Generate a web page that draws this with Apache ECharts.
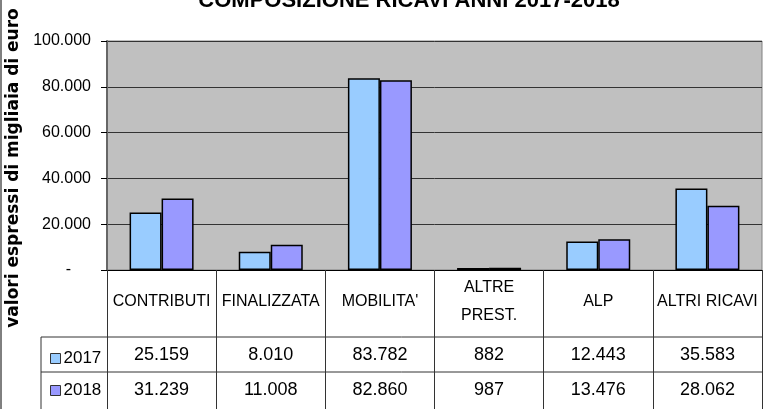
<!DOCTYPE html>
<html>
<head>
<meta charset="utf-8">
<script src="https://cdn.jsdelivr.net/npm/echarts@6/dist/echarts.min.js"></script>
<style>
  html, body { margin: 0; padding: 0; background: #fff; }
  #chart { width: 763px; height: 409px; }
</style>
</head>
<body>
<div id="chart"></div>
<script>
// dati
const categories = ['CONTRIBUTI', 'FINALIZZATA', "MOBILITA'", 'ALTRE\nPREST.', 'ALP', 'ALTRI RICAVI'];
const ricavi2017 = [25159, 8010, 83782, 882, 12443, 35583];
const ricavi2018 = [31239, 11008, 82860, 987, 13476, 28062];
const yTicks = [0, 20000, 40000, 60000, 80000, 100000];

const FONT = 'Liberation Sans, Arial, sans-serif';

// formato italiano 25.159
const fmt = (v) => String(v).replace(/\B(?=(\d{3})+(?!\d))/g, '.');

const chart = echarts.init(document.getElementById('chart'));

const gridL = 107, gridR = 762, gridB = 270;
const row1 = 337, row2 = 372, tableB = 409;
const legL = 41;

const valueAxis = (data, margin) => ({
  type: 'category',
  data: data.map(fmt),
  position: 'bottom',
  gridIndex: 0,
  axisLine: { show: false },
  axisTick: { show: false },
  axisLabel: {
    interval: 0,
    margin: margin,
    verticalAlign: 'middle',
    color: '#000',
    fontFamily: FONT,
    fontSize: 18,
  },
});

chart.setOption({
  animation: false,
  color: ['#99ccff', '#9999ff'],
  title: {
    text: 'COMPOSIZIONE RICAVI ANNI 2017-2018',
    left: 404,
    textAlign: 'center',
    top: -15,
    textStyle: { fontFamily: FONT, fontSize: 22, fontWeight: 'bold', color: '#000' },
  },
  legend: {
    orient: 'vertical',
    left: 45,
    top: 345,
    itemGap: 15,
    itemWidth: 10,
    itemHeight: 10,
    icon: 'rect',
    data: ['2017', '2018'],
    textStyle: { fontFamily: FONT, fontSize: 17, color: '#000', padding: [0, 0, 0, -2] },
    itemStyle: { borderColor: '#333', borderWidth: 1 },
  },
  grid: {
    left: gridL,
    right: 763 - gridR,
    top: 41,
    bottom: 409 - gridB,
    outerBoundsMode: 'none',
    containLabel: false,
    show: true,
    backgroundColor: '#c0c0c0',
    borderColor: '#808080',
    borderWidth: 1,
  },
  xAxis: [
    {
      type: 'category',
      data: categories,
      axisLine: { lineStyle: { color: '#000', width: 1 } },
      // tacche lunghe = separatori di colonna della tabella
      axisTick: { show: true, length: tableB - gridB, lineStyle: { color: '#333' } },
      axisLabel: {
        interval: 0,
        margin: 32,
        verticalAlign: 'middle',
        lineHeight: 28,
        color: '#000',
        fontFamily: FONT,
        fontSize: 16,
      },
    },
    valueAxis(ricavi2017, row1 - gridB + 18),
    valueAxis(ricavi2018, row2 - gridB + 18),
  ],
  yAxis: {
    type: 'value',
    min: 0,
    max: 100000,
    interval: 20000,
    axisLine: { show: true, lineStyle: { color: '#666', width: 2 } },
    axisTick: { show: true, length: 6, lineStyle: { color: '#000' } },
    axisLabel: {
      margin: 16,
      color: '#000',
      fontFamily: FONT,
      fontSize: 16,
      formatter: (v) => {
        if (!yTicks.includes(v)) return '';
        return v === 0 ? '{z|-}' : fmt(v);
      },
      rich: { z: { fontFamily: FONT, fontSize: 16, color: '#000', padding: [0, 20, 0, 0] } },
    },
    splitLine: { lineStyle: { color: '#333', width: 1 } },
  },
  series: [
    {
      name: '2017',
      type: 'bar',
      data: ricavi2017,
      barWidth: 32,
      barGap: '0%',
      itemStyle: { borderColor: '#000', borderWidth: 1.5 },
    },
    {
      name: '2018',
      type: 'bar',
      data: ricavi2018,
      barWidth: 32,
      itemStyle: { borderColor: '#000', borderWidth: 1.5 },
    },
  ],
  graphic: [
    // titolo asse Y
    {
      type: 'text',
      x: 14,
      y: 168,
      rotation: Math.PI / 2,
      style: {
        text: 'valori espressi di migliaia di euro',
        fontFamily: 'DejaVu Sans',
        fontWeight: 'bold',
        fontSize: 17,
        fill: '#000',
        align: 'center',
        verticalAlign: 'middle',
      },
    },
    // righe della tabella dati
    { type: 'line', shape: { x1: legL, y1: row1, x2: gridR, y2: row1 }, style: { stroke: '#333', lineWidth: 1 } },
    { type: 'line', shape: { x1: legL, y1: row2, x2: gridR, y2: row2 }, style: { stroke: '#333', lineWidth: 1 } },
    { type: 'line', shape: { x1: legL, y1: row1, x2: legL, y2: tableB }, style: { stroke: '#333', lineWidth: 1 } },
    // bordo esterno sinistro
    { type: 'line', shape: { x1: 1, y1: 0, x2: 1, y2: 409 }, style: { stroke: '#000', lineWidth: 1 } },
  ],
});
</script>
</body>
</html>
